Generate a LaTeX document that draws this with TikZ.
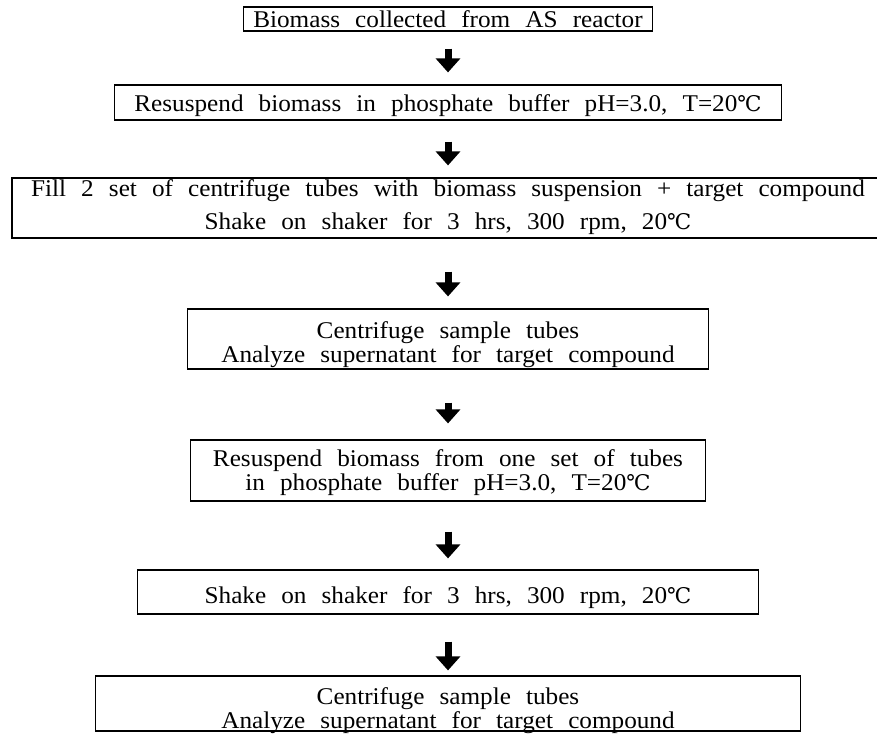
\documentclass[tikz,border=0pt]{standalone}
\usepackage{fontspec}
\setmainfont[FakeStretch=1.05,WordSpace=2.4]{Liberation Serif}
\newfontfamily\degfont[Scale=0.9]{DejaVu Serif}
\newcommand{\degC}{{\degfont ℃}}
\usetikzlibrary{arrows.meta}

\begin{document}
\begin{tikzpicture}[x=0.5pt,y=-0.5pt,
  stage/.style={draw, line width=0.6pt, align=center, inner sep=0pt, text depth=0pt,
    font=\fontsize{12}{12}\selectfont},
  flow/.style={line width=3.5pt, -{Triangle[width=12pt,length=7pt]}}]
\useasboundingbox (0,0) rectangle (877,733);
% process boxes, top to bottom
\node[stage, minimum width=204.5pt, minimum height=12pt, text height=9pt] (collect) at (448,19) {Biomass collected from AS reactor};
\node[stage, minimum width=333.5pt, minimum height=17.5pt, text height=9.5pt] (resusp) at (448,102.5) {Resuspend biomass in phosphate buffer pH=3.0, T=20\degC};
\node[stage, minimum width=436pt, minimum height=30pt, text height=21pt] (fill) at (448,208) {Fill 2 set of centrifuge tubes with biomass suspension + target compound\\[4.5pt]Shake on shaker for 3 hrs, 300 rpm, 20\degC};
\node[stage, minimum width=260.5pt, minimum height=30pt, text height=23pt] (spinA) at (448,339) {Centrifuge sample tubes\\Analyze supernatant for target compound};
\node[stage, minimum width=257.5pt, minimum height=30.5pt, text height=19.5pt] (resuspB) at (448,470.5) {Resuspend biomass from one set of tubes\\in phosphate buffer pH=3.0, T=20\degC};
\node[stage, minimum width=310.5pt, minimum height=22pt, text height=11pt] (shake) at (448,592) {Shake on shaker for 3 hrs, 300 rpm, 20\degC};
\node[stage, minimum width=352.5pt, minimum height=27.5pt, text height=24.5pt] (spinB) at (448,703.5) {Centrifuge sample tubes\\Analyze supernatant for target compound};
% arrows
\draw[flow, shorten <=8.5pt, shorten >=6pt] (collect) -- (resusp);
\draw[flow, shorten <=10.5pt, shorten >=6pt] (resusp) -- (fill);
\draw[flow, shorten <=16.5pt, shorten >=6pt] (fill) -- (spinA);
\draw[flow, shorten <=16.5pt, shorten >=8pt] (spinA) -- (resuspB);
\draw[flow, shorten <=15pt, shorten >=5.5pt] (resuspB) -- (shake);
\draw[flow, shorten <=13.5pt, shorten >=2.5pt] (shake) -- (spinB);
\end{tikzpicture}
\end{document}
